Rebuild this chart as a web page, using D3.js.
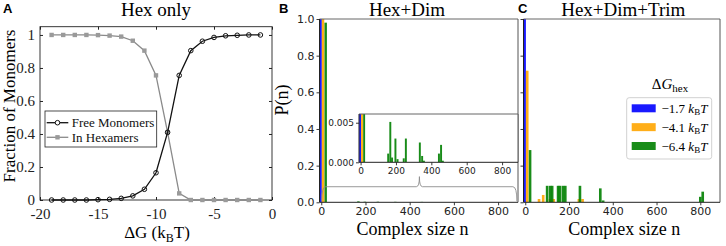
<!DOCTYPE html>
<html><head><meta charset="utf-8">
<script src="https://cdn.jsdelivr.net/npm/d3@7"></script>
<style>body{margin:0;background:#fff} svg{display:block}</style>
</head><body>
<svg id="chart" width="726" height="246"></svg>
<script>
// ---------- Panel A data ----------
const dG = [-19,-18,-17,-16,-15,-14,-13,-12,-11,-10,-9,-8,-7,-6,-5,-4,-3,-2,-1];
const freeMonomers = [0,0,0,0,0.002,0.004,0.01,0.025,0.065,0.165,0.41,0.755,0.905,0.962,0.985,0.995,0.998,1,1];
const inHexamers  = [1,1,1,1,0.999,0.996,0.99,0.965,0.905,0.755,0.41,0.04,0,0,0,0,0,0,0];
const ticksAx = [-20,-15,-10,-5,0];
const ticksAy = [0,0.2,0.4,0.6,0.8,1];
const legendA = ["Free Monomers","In Hexamers"];

// ---------- Panel B / C data ----------
const seriesNames = ["\u22121.7","\u22124.1","\u22126.4"];
const seriesColors = ["#0000ff","#ffa500","#008000"];
const ticksBx = [0,200,400,600,800];
const ticksBy = [0,0.2,0.4,0.6,0.8,1.0];
const ticksInsetY = [0,0.005];

// Hex+Dim
const bBlueN = [-3], bBlueP = [1.0];
const bOrangeN = [8], bOrangeP = [1.0];
const bGreenN = [20,156,168,178,197,209,244,256,335,348,358,443,455,465];
const bGreenP = [0.98,0.0011,0.0051,0.0006,0.0030,0.0004,0.0005,0.0030,0.0025,0.0008,0.0002,0.0011,0.0022,0.0002];

// Hex+Dim+Trim
const cBlueN = [-3], cBlueP = [1.0];
const cOrangeN = [9,63,82,113,130,245,262];
const cOrangeP = [0.718,0.018,0.04,0.018,0.018,0.018,0.018];
const cGreenN = [22,100,114,123,150,158,172,183,250,343,356,800,811];
const cGreenP = [0.285,0.09,0.09,0.09,0.09,0.09,0.09,0.09,0.09,0.076,0.01,0.03,0.058];

const serif = "'Liberation Serif','Times New Roman',serif";
const sans = "'DejaVu Sans',sans-serif";
const svg = d3.select("#chart");

function zip(n,p){ return n.map((v,i)=>({n:v,p:p[i]})); }

// ================= Panel A =================
const xA = d3.scaleLinear().domain([-20,0]).range([40,272]);
const yA = d3.scaleLinear().domain([0,1.05]).range([200,26.7]);
const gA = svg.append("g");
function styleAxisA(g){ g.select(".domain").remove(); g.selectAll("line").attr("stroke","#222");
  g.selectAll("text").attr("font-family",serif).attr("font-size",15).attr("fill","#222"); }
gA.append("g").attr("transform","translate(0,200)")
  .call(d3.axisBottom(xA).tickValues(ticksAx).tickSize(-3).tickPadding(8).tickFormat(d=>String(d))).call(styleAxisA);
gA.append("g").attr("transform","translate(0,26.7)")
  .call(d3.axisTop(xA).tickValues(ticksAx).tickSize(-3).tickFormat("")).call(styleAxisA);
gA.append("g").attr("transform","translate(40,0)")
  .call(d3.axisLeft(yA).tickValues(ticksAy).tickSize(-3).tickPadding(5).tickFormat(d=>d===0?"0":d===1?"1":d.toFixed(1))).call(styleAxisA);
gA.append("g").attr("transform","translate(272,0)")
  .call(d3.axisRight(yA).tickValues(ticksAy).tickSize(-3).tickFormat("")).call(styleAxisA);
gA.append("rect").attr("x",xA(-20)).attr("y",yA(1.05)).attr("width",xA(0)-xA(-20)).attr("height",yA(0)-yA(1.05))
  .attr("fill","none").attr("stroke","#222").attr("stroke-width",0.9);

const lineA = d3.line().x(d=>xA(d.x)).y(d=>yA(d.y));
const hexData = dG.map((x,i)=>({x,y:inHexamers[i]}));
const freeData = dG.map((x,i)=>({x,y:freeMonomers[i]}));
gA.append("path").datum(hexData).attr("d",lineA).attr("fill","none").attr("stroke","#8a8a8a").attr("stroke-width",1.3);
gA.selectAll(".sq").data(hexData).enter().append("rect").attr("x",d=>xA(d.x)-2.2).attr("y",d=>yA(d.y)-2.2)
  .attr("width",4.4).attr("height",4.4).attr("fill","#9a9a9a");
gA.append("path").datum(freeData).attr("d",lineA).attr("fill","none").attr("stroke","#111").attr("stroke-width",1.3);
gA.selectAll(".ci").data(freeData).enter().append("circle").attr("cx",d=>xA(d.x)).attr("cy",d=>yA(d.y))
  .attr("r",2.3).attr("fill","none").attr("stroke","#111").attr("stroke-width",1);

// legend A
const lgA = gA.append("g");
lgA.append("rect").attr("x",45).attr("y",111).attr("width",111.7).attr("height",36).attr("fill","#fff").attr("stroke","#222").attr("stroke-width",0.8);
[[0,"#111","c"],[1,"#8a8a8a","s"]].forEach(([i,col,m])=>{
  const yy = 122.7 + i*14.6;
  lgA.append("line").attr("x1",46.7).attr("x2",68.3).attr("y1",yy).attr("y2",yy).attr("stroke",col).attr("stroke-width",1.3);
  if(m==="c") lgA.append("circle").attr("cx",57.5).attr("cy",yy).attr("r",2.3).attr("fill","#fff").attr("stroke",col);
  else lgA.append("rect").attr("x",55.3).attr("y",yy-2.2).attr("width",4.4).attr("height",4.4).attr("fill","#9a9a9a");
  lgA.append("text").attr("x",71.7).attr("y",yy+4.5).attr("font-family",serif).attr("font-size",13).attr("fill","#111").text(legendA[i]);
});

gA.append("text").attr("x",156).attr("y",15.5).attr("text-anchor","middle").attr("font-family",serif).attr("font-size",19).text("Hex only");
const xlA = gA.append("text").attr("x",157).attr("y",238).attr("text-anchor","middle").attr("font-family",serif).attr("font-size",17);
xlA.append("tspan").text("\u0394G (k");
xlA.append("tspan").attr("font-size",12).attr("dy",4).text("B");
xlA.append("tspan").attr("dy",-4).text("T)");
gA.append("text").attr("transform","translate(15,106) rotate(-90)").attr("text-anchor","middle").attr("font-family",serif).attr("font-size",17).text("Fraction of Monomers");
svg.append("text").attr("x",3).attr("y",13).attr("font-family","'Liberation Sans',Arial,sans-serif").attr("font-weight","bold").attr("font-size",13).text("A");

// ================= helpers for B / C =================
function styleAxisM(g,fs){ g.select(".domain").remove(); g.selectAll("line").attr("stroke","#222").attr("stroke-width",0.9);
  g.selectAll("text").attr("font-family",sans).attr("font-size",fs).attr("fill","#222"); }
function drawBars(g,x,y,series,w,clipId){
  const bg = g.append("g").attr("clip-path",`url(#${clipId})`);
  series.forEach((s,i)=>{
    bg.selectAll(null).data(s).enter().append("rect")
      .attr("x",d=>x(d.n-w/2)).attr("width",d=>x(d.n+w/2)-x(d.n-w/2))
      .attr("y",d=>y(d.p)).attr("height",d=>y(0)-y(d.p))
      .attr("fill",seriesColors[i]).attr("fill-opacity",0.9);
  });
}
function frame(g,x0,x1,y0,y1){
  g.append("line").attr("x1",x0).attr("x2",x1).attr("y1",y1).attr("y2",y1).attr("stroke","#666").attr("stroke-width",1);
  g.append("line").attr("x1",x1).attr("x2",x1).attr("y1",y0).attr("y2",y1).attr("stroke","#555").attr("stroke-width",1);
  g.append("line").attr("x1",x0).attr("x2",x0).attr("y1",y0).attr("y2",y1).attr("stroke","#222").attr("stroke-width",1);
  g.append("line").attr("x1",x0).attr("x2",x1).attr("y1",y0).attr("y2",y0).attr("stroke","#222").attr("stroke-width",1);
}
const defs = svg.append("defs");
const tickFS = 11;

// ================= Panel B =================
const xB = d3.scaleLinear().domain([-8,890]).range([319.5,518]);
const yB = d3.scaleLinear().domain([0,1]).range([202.3,19]);
defs.append("clipPath").attr("id","clipB").append("rect").attr("x",319.5).attr("y",19).attr("width",198.5).attr("height",183.3);
const gB = svg.append("g");
drawBars(gB,xB,yB,[zip(bBlueN,bBlueP),zip(bOrangeN,bOrangeP),zip(bGreenN,bGreenP)],11,"clipB");
gB.append("g").attr("transform","translate(0,202.3)").call(d3.axisBottom(xB).tickValues(ticksBx).tickSize(3).tickPadding(1.5).tickFormat(d3.format("d"))).call(g=>styleAxisM(g,tickFS));
gB.append("g").attr("transform","translate(319.5,0)").call(d3.axisLeft(yB).tickValues(ticksBy).tickSize(3).tickPadding(2).tickFormat(d3.format(".1f"))).call(g=>styleAxisM(g,tickFS));
frame(gB,319.5,518,202.3,19);

// brace pointing to inset
const br = d3.path();
const bl = yB(0.085), bp = yB(0.14), be = yB(0.005);
const nA = 2, nZ = 885, nM = 444;
br.moveTo(xB(nA),be);
br.quadraticCurveTo(xB(nA),bl,xB(nA+18),bl);
br.lineTo(xB(nM-14),bl);
br.quadraticCurveTo(xB(nM),bl,xB(nM),bp);
br.quadraticCurveTo(xB(nM),bl,xB(nM+14),bl);
br.lineTo(xB(nZ-18),bl);
br.quadraticCurveTo(xB(nZ),bl,xB(nZ),be);
gB.append("path").attr("d",br.toString()).attr("fill","none").attr("stroke","#8c8c8c").attr("stroke-width",0.9);

// inset
const xI = d3.scaleLinear().domain([-9,890]).range([359,518]);
const yI = d3.scaleLinear().domain([0,0.0061]).range([162.3,114]);
defs.append("clipPath").attr("id","clipI").append("rect").attr("x",359).attr("y",114).attr("width",159).attr("height",48.3);
const gI = svg.append("g");
gI.append("rect").attr("x",359).attr("y",114).attr("width",159).attr("height",48.3).attr("fill","#fff");
drawBars(gI,xI,yI,[zip(bBlueN,bBlueP),zip(bOrangeN,bOrangeP),zip(bGreenN,bGreenP)],11,"clipI");
gI.append("g").attr("transform","translate(0,162.3)").call(d3.axisBottom(xI).tickValues(ticksBx).tickSize(3).tickPadding(2).tickFormat(d3.format("d"))).call(g=>styleAxisM(g,9));
gI.append("g").attr("transform","translate(359,0)").call(d3.axisLeft(yI).tickValues(ticksInsetY).tickSize(3).tickPadding(2).tickFormat(d3.format(".3f"))).call(g=>styleAxisM(g,9));
frame(gI,359,518,162.3,114);

gB.append("text").attr("x",407).attr("y",15.5).attr("text-anchor","middle").attr("font-family",serif).attr("font-size",19).text("Hex+Dim");
gB.append("text").attr("x",412.5).attr("y",234.5).attr("text-anchor","middle").attr("font-family",serif).attr("font-size",18).text("Complex size n");
gB.append("text").attr("transform","translate(287.5,100) rotate(-90)").attr("text-anchor","middle").attr("font-family",serif).attr("font-size",18).text("P(n)");
svg.append("text").attr("x",279).attr("y",13).attr("font-family","'Liberation Sans',Arial,sans-serif").attr("font-weight","bold").attr("font-size",13).text("B");

// ================= Panel C =================
const xC = d3.scaleLinear().domain([-8,890]).range([523.5,720]);
const yC = d3.scaleLinear().domain([0,1]).range([202.3,19]);
defs.append("clipPath").attr("id","clipC").append("rect").attr("x",523.5).attr("y",19).attr("width",196.5).attr("height",183.3);
const gC = svg.append("g");
drawBars(gC,xC,yC,[zip(cBlueN,cBlueP),zip(cOrangeN,cOrangeP),zip(cGreenN,cGreenP)],12,"clipC");
gC.append("g").attr("transform","translate(0,202.3)").call(d3.axisBottom(xC).tickValues(ticksBx).tickSize(3).tickPadding(1.5).tickFormat(d3.format("d"))).call(g=>styleAxisM(g,tickFS));
gC.append("g").attr("transform","translate(523.5,0)").call(d3.axisLeft(yC).tickValues(ticksBy).tickSize(3).tickFormat("")).call(g=>styleAxisM(g,tickFS));
frame(gC,523.5,720,202.3,19);

gC.append("text").attr("x",623.3).attr("y",15.5).attr("text-anchor","middle").attr("font-family",serif).attr("font-size",19).text("Hex+Dim+Trim");
gC.append("text").attr("x",624.3).attr("y",234.5).attr("text-anchor","middle").attr("font-family",serif).attr("font-size",18).text("Complex size n");
svg.append("text").attr("x",518).attr("y",13).attr("font-family","'Liberation Sans',Arial,sans-serif").attr("font-weight","bold").attr("font-size",13).text("C");

// legend C
const lgC = gC.append("g");
lgC.append("rect").attr("x",626.7).attr("y",97.7).attr("width",85).attr("height",61.3).attr("rx",2.5)
  .attr("fill","#fff").attr("fill-opacity",0.8).attr("stroke","#ccc").attr("stroke-width",0.9);
const lt = lgC.append("text").attr("x",670).attr("y",89).attr("text-anchor","middle").attr("font-family",serif).attr("font-size",15);
lt.append("tspan").text("\u0394");
lt.append("tspan").attr("font-style","italic").text("G");
lt.append("tspan").attr("font-size",11).attr("dy",3).text("hex");
seriesNames.forEach((nm,i)=>{
  const yy = 108.3 + i*18.85;
  lgC.append("rect").attr("x",631.7).attr("y",yy-4).attr("width",24).attr("height",8).attr("fill",seriesColors[i]).attr("fill-opacity",0.9);
  const t = lgC.append("text").attr("x",661.5).attr("y",yy+4.5).attr("font-family",serif).attr("font-size",13);
  t.append("tspan").text(nm+" ");
  t.append("tspan").attr("font-style","italic").text("k");
  t.append("tspan").attr("font-size",9).attr("dy",2.5).text("B");
  t.append("tspan").attr("font-style","italic").attr("dy",-2.5).text("T");
});
</script>
</body></html>
